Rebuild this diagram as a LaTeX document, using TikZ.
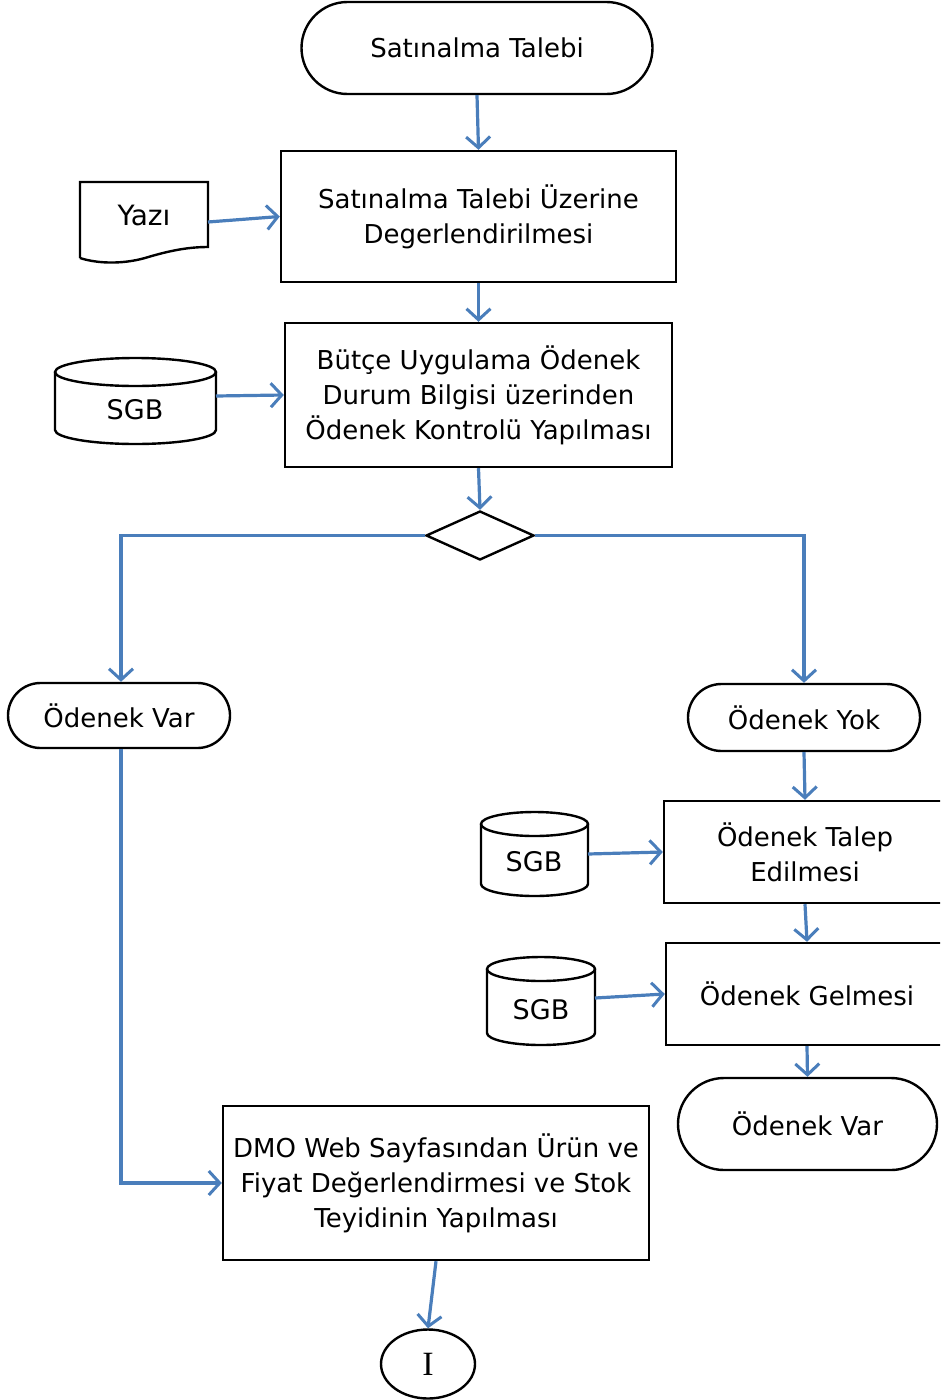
\documentclass[tikz,border=0pt]{standalone}
\usepackage{fontspec}
\setmainfont{DejaVu Sans}
\newfontfamily\serifI{Liberation Serif}
\usetikzlibrary{arrows.meta,calc,shapes.geometric}
\definecolor{flowblue}{RGB}{74,126,187}
\tikzset{
  x=1pt,y=-1pt,
  txt/.style={font=\fontsize{26}{35}\selectfont, align=center, inner sep=0pt},
  box/.style={txt, draw, line width=2.4pt},
  term/.style={box, rounded corners=#1},
  flow/.style={draw=flowblue, line width=3.2pt, -{Straight Barb[length=11pt,width=24pt,line width=3pt]}},
  shapeline/.style={draw, line width=2.4pt},
}
\newcommand{\cylfig}[6]{% cx, left, right, top, bottom, ry
  \draw[shapeline] (#2,#4+#6) -- (#2,#5-#6) arc[start angle=180,end angle=0,x radius={(#3-#2)/2},y radius=#6] -- (#3,#4+#6);
  \draw[shapeline] (#1,#4+#6) ellipse[x radius={(#3-#2)/2},y radius=#6];
}
\begin{document}
\begin{tikzpicture}
\useasboundingbox (0,0) rectangle (940,1400);
\clip (0,0) rectangle (940,1400);

% main column
\node[term=46pt, minimum width=351, minimum height=92] (start) at (477,48) {Satınalma Talebi};
\node[box, minimum width=395, minimum height=131] (box1) at (478.5,216.5) {Satınalma Talebi Üzerine\\Degerlendirilmesi};
\node[box, minimum width=387, minimum height=144] (box2) at (478.5,395) {Bütçe Uygulama Ödenek\\Durum Bilgisi üzerinden\\Ödenek Kontrolü Yapılması};
\node[diamond, draw, line width=2.4pt, minimum width=108, minimum height=49, inner sep=0pt] (dia) at (480,535.5) {};

% Yazi document
\draw[shapeline] (80,258) -- (80,182) -- (208,182) -- (208,247)
  .. controls (185,247) and (165,252) .. (145,258)
  .. controls (120,265) and (95,263) .. (80,258);
\node[txt, font=\fontsize{28}{35}\selectfont] (yazi) at (144,215) {Yazı};
\coordinate (yazie) at (208,222);

% SGB 1
\cylfig{135.5}{55}{216}{358}{444}{14}
\node[txt, font=\fontsize{27}{35}\selectfont] (sgb1) at (135,410) {SGB};
\coordinate (sgb1e) at (216,396);

% branches
\node[term=32.5pt, minimum width=222, minimum height=65] (varL) at (119,715.5) {Ödenek Var};
\node[term=33.5pt, minimum width=232, minimum height=67] (yok) at (804,717.5) {Ödenek Yok};
\node[box, minimum width=282, minimum height=102] (talep) at (805,852) {Ödenek Talep\\Edilmesi};
\node[box, minimum width=282, minimum height=102] (gelme) at (807,994) {Ödenek Gelmesi};
\node[term=46pt, minimum width=259, minimum height=92] (var2) at (807.5,1124) {Ödenek Var};

\cylfig{534.5}{481}{588}{812}{896}{12}
\node[txt, font=\fontsize{27}{35}\selectfont] (sgb2) at (534,862) {SGB};
\coordinate (sgb2e) at (588,854);
\cylfig{541}{487}{595}{957}{1045}{12}
\node[txt, font=\fontsize{27}{35}\selectfont] (sgb3) at (541,1010) {SGB};
\coordinate (sgb3e) at (595,998);

\node[box, minimum width=426, minimum height=154] (dmo) at (436,1183) {DMO Web Sayfasından Ürün ve\\Fiyat Değerlendirmesi ve Stok\\Teyidinin Yapılması};
\node[ellipse, draw, line width=2.4pt, minimum width=94, minimum height=69, inner sep=0pt, font=\serifI\fontsize{34}{36}\selectfont] (conn) at (428,1364) {I};

% connectors
\draw[flow] (start.south) -- (box1.north);
\draw[flow] (yazie) -- (box1.west);
\draw[flow] (box1.south) -- (box2.north);
\draw[flow] (sgb1e) -- (box2.west);
\draw[flow] (box2.south) -- (dia.north);
\draw[flow] (dia.west) -| ([xshift=2pt]varL.north);
\draw[flow] (dia.east) -| (yok.north);
\draw[flow] (yok.south) -- (talep.north);
\draw[flow] (sgb2e) -- (talep.west);
\draw[flow] (talep.south) -- (gelme.north);
\draw[flow] (sgb3e) -- (gelme.west);
\draw[flow] (gelme.south) -- (var2.north);
\draw[flow] ([xshift=2pt]varL.south) |- (dmo.west);
\draw[flow] (dmo.south) -- (conn.north);
\end{tikzpicture}
\end{document}
